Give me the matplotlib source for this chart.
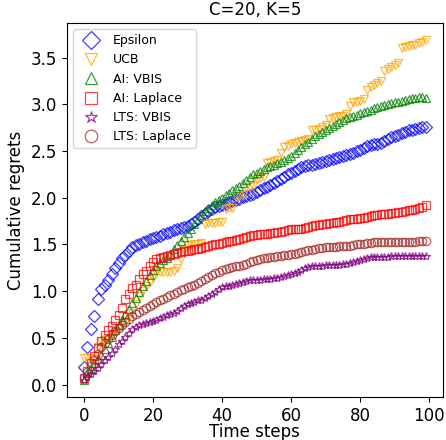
import matplotlib
matplotlib.use("Agg")
import matplotlib.pyplot as plt
import numpy as np

steps = np.arange(100)

epsilon = [
    0.19, 0.40, 0.60, 0.73, 0.92, 1.02, 1.07, 1.12, 1.18, 1.25,
    1.30, 1.35, 1.39, 1.43, 1.47, 1.49, 1.51, 1.53, 1.54, 1.56,
    1.57, 1.58, 1.59, 1.61, 1.62, 1.63, 1.65, 1.66, 1.68, 1.69,
    1.70, 1.72, 1.74, 1.77, 1.80, 1.83, 1.86, 1.88, 1.90, 1.91,
    1.92, 1.93, 1.95, 1.96, 1.98, 1.99, 2.01, 2.02, 2.03, 2.04,
    2.06, 2.08, 2.10, 2.12, 2.14, 2.16, 2.18, 2.20, 2.22, 2.25,
    2.27, 2.29, 2.31, 2.33, 2.34, 2.35, 2.35, 2.36, 2.37, 2.38,
    2.39, 2.40, 2.42, 2.43, 2.44, 2.45, 2.46, 2.47, 2.48, 2.50,
    2.51, 2.53, 2.55, 2.56, 2.57, 2.58, 2.59, 2.61, 2.63, 2.65,
    2.66, 2.67, 2.69, 2.70, 2.72, 2.73, 2.74, 2.75, 2.76, 2.76,
]
ucb = [
    0.28, 0.28, 0.28, 0.27, 0.40, 0.47, 0.48, 0.49, 0.53, 0.57,
    0.60, 0.64, 0.66, 0.72, 0.77, 0.86, 0.95, 1.00, 1.05, 1.10,
    1.14, 1.19, 1.20, 1.20, 1.21, 1.21, 1.22, 1.25, 1.34, 1.44,
    1.48, 1.49, 1.50, 1.51, 1.52, 1.72, 1.73, 1.73, 1.73, 1.74,
    1.74, 1.88, 1.89, 1.89, 2.01, 2.02, 2.03, 2.11, 2.12, 2.13,
    2.20, 2.21, 2.22, 2.37, 2.38, 2.39, 2.40, 2.48, 2.54, 2.55,
    2.57, 2.59, 2.60, 2.61, 2.62, 2.63, 2.72, 2.73, 2.74, 2.76,
    2.78, 2.84, 2.85, 2.86, 2.87, 2.88, 2.90, 2.98, 3.02, 3.03,
    3.04, 3.06, 3.15, 3.19, 3.21, 3.23, 3.25, 3.36, 3.38, 3.40,
    3.42, 3.44, 3.60, 3.61, 3.62, 3.63, 3.64, 3.66, 3.67, 3.69,
]
ai_vbis = [
    0.05, 0.12, 0.18, 0.23, 0.27, 0.32, 0.38, 0.45, 0.51, 0.58,
    0.64, 0.69, 0.75, 0.81, 0.87, 0.93, 0.99, 1.05, 1.11, 1.17,
    1.23, 1.27, 1.30, 1.33, 1.36, 1.40, 1.45, 1.49, 1.54, 1.58,
    1.62, 1.67, 1.72, 1.77, 1.82, 1.86, 1.89, 1.92, 1.95, 1.98,
    2.00, 2.03, 2.05, 2.08, 2.10, 2.13, 2.16, 2.19, 2.22, 2.25,
    2.27, 2.29, 2.31, 2.33, 2.34, 2.35, 2.37, 2.38, 2.40, 2.43,
    2.45, 2.48, 2.51, 2.54, 2.57, 2.60, 2.63, 2.66, 2.68, 2.70,
    2.72, 2.75, 2.77, 2.79, 2.81, 2.83, 2.85, 2.86, 2.88, 2.89,
    2.91, 2.92, 2.93, 2.94, 2.96, 2.97, 2.98, 2.99, 3.00, 3.01,
    3.02, 3.03, 3.04, 3.05, 3.06, 3.07, 3.07, 3.08, 3.08, 3.07,
]
ai_laplace = [
    0.07, 0.14, 0.23, 0.31, 0.39, 0.47, 0.53, 0.58, 0.63, 0.69,
    0.74, 0.82, 0.92, 0.97, 1.03, 1.07, 1.13, 1.18, 1.22, 1.27,
    1.31, 1.34, 1.36, 1.37, 1.38, 1.39, 1.40, 1.41, 1.42, 1.43,
    1.43, 1.44, 1.45, 1.45, 1.46, 1.47, 1.48, 1.49, 1.50, 1.51,
    1.52, 1.53, 1.54, 1.54, 1.55, 1.56, 1.57, 1.58, 1.59, 1.60,
    1.60, 1.61, 1.61, 1.61, 1.62, 1.62, 1.63, 1.63, 1.64, 1.65,
    1.66, 1.66, 1.67, 1.67, 1.68, 1.69, 1.70, 1.71, 1.71, 1.72,
    1.72, 1.73, 1.73, 1.74, 1.74, 1.75, 1.76, 1.77, 1.77, 1.77,
    1.78, 1.78, 1.79, 1.80, 1.81, 1.82, 1.83, 1.83, 1.83, 1.84,
    1.84, 1.85, 1.85, 1.86, 1.87, 1.87, 1.88, 1.89, 1.90, 1.92,
]
lts_vbis = [
    0.05, 0.08, 0.11, 0.14, 0.18, 0.22, 0.26, 0.30, 0.34, 0.38,
    0.43, 0.47, 0.51, 0.55, 0.59, 0.62, 0.64, 0.65, 0.66, 0.67,
    0.68, 0.69, 0.71, 0.72, 0.74, 0.75, 0.77, 0.79, 0.82, 0.84,
    0.86, 0.87, 0.88, 0.90, 0.91, 0.93, 0.95, 0.97, 0.99, 1.02,
    1.04, 1.05, 1.06, 1.07, 1.08, 1.09, 1.10, 1.11, 1.12, 1.12,
    1.12, 1.12, 1.13, 1.13, 1.13, 1.14, 1.14, 1.15, 1.16, 1.17,
    1.18, 1.19, 1.21, 1.23, 1.25, 1.26, 1.27, 1.27, 1.27, 1.27,
    1.28, 1.28, 1.28, 1.28, 1.28, 1.29, 1.29, 1.30, 1.31, 1.32,
    1.33, 1.34, 1.36, 1.37, 1.37, 1.37, 1.37, 1.37, 1.37, 1.38,
    1.38, 1.38, 1.38, 1.38, 1.38, 1.38, 1.38, 1.38, 1.38, 1.38,
]
lts_laplace = [
    0.07, 0.13, 0.20, 0.26, 0.33, 0.40, 0.45, 0.49, 0.53, 0.57,
    0.61, 0.64, 0.67, 0.70, 0.73, 0.75, 0.78, 0.80, 0.82, 0.84,
    0.86, 0.88, 0.90, 0.92, 0.94, 0.96, 0.97, 0.99, 1.01, 1.02,
    1.04, 1.05, 1.07, 1.09, 1.11, 1.13, 1.15, 1.17, 1.19, 1.21,
    1.23, 1.24, 1.25, 1.26, 1.27, 1.27, 1.28, 1.29, 1.31, 1.32,
    1.33, 1.34, 1.35, 1.36, 1.37, 1.37, 1.38, 1.38, 1.39, 1.39,
    1.40, 1.40, 1.41, 1.42, 1.43, 1.44, 1.44, 1.45, 1.46, 1.46,
    1.47, 1.47, 1.47, 1.47, 1.48, 1.48, 1.48, 1.48, 1.49, 1.50,
    1.50, 1.51, 1.52, 1.52, 1.53, 1.53, 1.53, 1.53, 1.53, 1.53,
    1.53, 1.53, 1.53, 1.53, 1.53, 1.53, 1.53, 1.54, 1.54, 1.54,
]

series = [
    ("Epsilon", epsilon, "D", "blue"),
    ("UCB", ucb, "v", "orange"),
    ("AI: VBIS", ai_vbis, "^", "green"),
    ("AI: Laplace", ai_laplace, "s", "red"),
    ("LTS: VBIS", lts_vbis, "*", "purple"),
    ("LTS: Laplace", lts_laplace, "o", "brown"),
]

fig = plt.figure(figsize=(4.46, 4.40), dpi=100)
ax = fig.add_axes([0.150, 0.098, 0.843, 0.850])

for name, vals, marker, color in series:
    ax.plot(steps, vals, linestyle="none", marker=marker, markersize=6,
            markerfacecolor="none", markeredgecolor=color, markeredgewidth=0.9,
            alpha=0.75, label=name)

ax.set_title("C=20, K=5", fontsize=12)
ax.set_xlabel("Time steps", fontsize=12, labelpad=-1.5)
ax.set_ylabel("Cumulative regrets", fontsize=12)
ax.tick_params(labelsize=12)
ax.legend(loc="upper left", markerscale=1.5, fontsize=9)

fig.savefig("out.png", dpi=100)
